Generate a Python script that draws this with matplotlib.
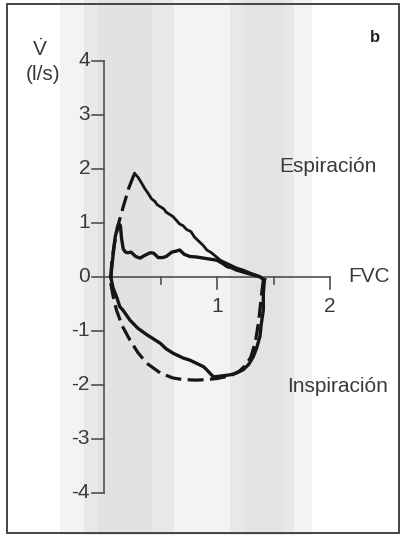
import matplotlib
matplotlib.use("Agg")
import matplotlib.pyplot as plt
from matplotlib.patches import Rectangle

plt.rcParams['font.family'] = ['Liberation Sans', 'DejaVu Sans']
plt.rcParams['mathtext.fontset'] = 'custom'
plt.rcParams['mathtext.rm'] = 'Liberation Sans'

# ---- data (volume in l, flow in l/s) ----
# loop A: high peak flow, dashed rise + solid fall, dashed inspiration
a_rise_v = [0.06, 0.07, 0.09, 0.13, 0.17, 0.22, 0.27]
a_rise_f = [0.00, 0.30, 0.60, 1.00, 1.30, 1.65, 1.92]
a_fall_v = [0.27, 0.30, 0.33, 0.36, 0.39, 0.42, 0.45, 0.47, 0.50, 0.53, 0.55, 0.58, 0.61, 0.64,
            0.67, 0.70, 0.73, 0.77, 0.80, 0.82, 0.85, 0.88, 0.91, 0.95, 0.99, 1.03, 1.08,
            1.12, 1.17, 1.23, 1.30, 1.38, 1.41]
a_fall_f = [1.92, 1.85, 1.75, 1.64, 1.55, 1.45, 1.40, 1.34, 1.30, 1.26, 1.20, 1.16, 1.12, 1.05,
            0.98, 0.95, 0.88, 0.84, 0.74, 0.70, 0.64, 0.58, 0.50, 0.45, 0.38, 0.31, 0.26,
            0.22, 0.17, 0.13, 0.07, 0.01, -0.05]
a_insp_v = [1.41, 1.39, 1.37, 1.34, 1.30, 1.26, 1.20, 1.12, 1.00, 0.90, 0.82, 0.70, 0.61, 0.50,
            0.38, 0.30, 0.23, 0.16, 0.11, 0.08, 0.06, 0.06]
a_insp_f = [-0.05, -0.40, -0.80, -1.20, -1.48, -1.62, -1.74, -1.83, -1.88, -1.90, -1.91, -1.90,
            -1.87, -1.78, -1.60, -1.40, -1.17, -0.90, -0.61, -0.35, -0.12, 0.00]

# loop B: low peak flow, solid
b_exp_v = [0.06, 0.08, 0.10, 0.12, 0.13, 0.145, 0.155, 0.17, 0.19, 0.21, 0.24, 0.28, 0.32, 0.36,
           0.41, 0.44, 0.48, 0.52, 0.55, 0.60, 0.64, 0.67, 0.71, 0.76, 0.82, 0.88, 0.94,
           1.00, 1.05, 1.09, 1.13, 1.17, 1.25, 1.32, 1.38, 1.42]
b_exp_f = [0.00, 0.40, 0.75, 0.93, 0.99, 0.95, 0.72, 0.52, 0.46, 0.45, 0.46, 0.38, 0.35, 0.40,
           0.45, 0.44, 0.36, 0.36, 0.38, 0.46, 0.48, 0.50, 0.42, 0.38, 0.37, 0.35, 0.33,
           0.31, 0.25, 0.19, 0.17, 0.13, 0.08, 0.04, 0.00, -0.05]
b_insp_v = [1.42, 1.41, 1.41, 1.39, 1.38, 1.35, 1.32, 1.28, 1.23, 1.17, 1.12, 1.05, 0.97, 0.95,
            0.91, 0.88, 0.82, 0.76, 0.70, 0.61, 0.55, 0.50, 0.44, 0.38, 0.30, 0.23, 0.17,
            0.14, 0.11, 0.08, 0.06]
b_insp_f = [-0.05, -0.30, -0.61, -0.90, -1.10, -1.32, -1.48, -1.62, -1.72, -1.78, -1.81, -1.83,
            -1.85, -1.81, -1.72, -1.66, -1.60, -1.54, -1.50, -1.41, -1.33, -1.23, -1.15, -1.07,
            -0.95, -0.80, -0.62, -0.55, -0.36, -0.20, 0.00]

y_ticks = [4, 3, 2, 1, 0, -1, -2, -3, -4]
y_ticklabels = ['4', '3', '2', '1', '0', '-1', '-2', '-3', '-4']
x_major = [1, 2]
x_minor = [0.5, 1.5]

# ---- figure: one axes filling the page, data units mapped to pixels ----
W, H = 401, 535
X0, Y0 = 104, 277        # origin in pixels
SX, SY = 113.0, 54.0     # pixels per unit

fig = plt.figure(figsize=(W / 100, H / 100), dpi=100)
ax = fig.add_axes([0, 0, 1, 1])
ax.set_xlim(-X0 / SX, (W - X0) / SX)
ax.set_ylim(-(H - Y0) / SY, Y0 / SY)
ax.axis('off')

def px(x):
    return (x - X0) / SX

def py(y):
    return (Y0 - y) / SY

# scanned halftone background bands
for x1, x2, c in [(60, 312, '#f3f3f3'), (84, 174, '#e8e8e8'), (230, 294, '#e8e8e8'),
                  (98, 152, '#e2e2e2'), (244, 284, '#e3e3e3')]:
    ax.axvspan(px(x1), px(x2), color=c, lw=0, zorder=0)

# frame
ax.add_patch(Rectangle((px(7), py(533)), (399 - 7) / SX, (533 - 4) / SY,
                       fill=False, ec='#444444', lw=1.4, zorder=1))

axc = '#505050'
txc = '#3a3a3a'
fs = 15
# y axis with ticks to the left
ax.plot([0, 0], [-4, 4], color=axc, lw=1.2, zorder=2)
for t, lab in zip(y_ticks, y_ticklabels):
    ax.plot([-12 / SX, 0], [t, t], color=axc, lw=1.2, zorder=2)
    ax.text(-14 / SX, t, lab, ha='right', va='center', fontsize=fs, color=txc)

# x axis with ticks below
ax.plot([0, 2], [0, 0], color=axc, lw=1.2, zorder=2)
for t in x_major:
    ax.plot([t, t], [0, -12 / SY], color=axc, lw=1.2, zorder=2)
    ax.text(t, -30 / SY, str(t), ha='center', va='center', fontsize=fs, color=txc)
for t in x_minor:
    ax.plot([t, t], [0, -7 / SY], color=axc, lw=1.2, zorder=2)

# curves
ax.plot(a_rise_v, a_rise_f, color='#151515', lw=2.3, dashes=(5, 2), zorder=3)
ax.plot(a_fall_v, a_fall_f, color='#151515', lw=2.0, zorder=3)
ax.plot(a_insp_v, a_insp_f, color='#151515', lw=2.3, dashes=(5, 2), zorder=3)
ax.plot(b_exp_v, b_exp_f, color='#151515', lw=2.4, zorder=3)
ax.plot(b_insp_v, b_insp_f, color='#151515', lw=2.4, zorder=3)

# labels
ax.text(px(40), py(56), r'$\dot{\mathrm{V}}$', ha='center', va='baseline', fontsize=fs,
        color=txc)
ax.text(px(43), py(74), '(l/s)', ha='center', va='center', fontsize=fs, color=txc)
ax.text(px(375), py(37), 'b', ha='center', va='center', fontsize=12, fontweight='bold',
        color='#222222')
ax.text(px(279), py(167), 'Espiración', ha='left', va='center', fontsize=fs, color=txc)
ax.text(px(348), py(277), 'FVC', ha='left', va='center', fontsize=fs, color=txc)
ax.text(px(287), py(387), 'Inspiración', ha='left', va='center', fontsize=fs, color=txc)

fig.savefig('out.png', dpi=100)
